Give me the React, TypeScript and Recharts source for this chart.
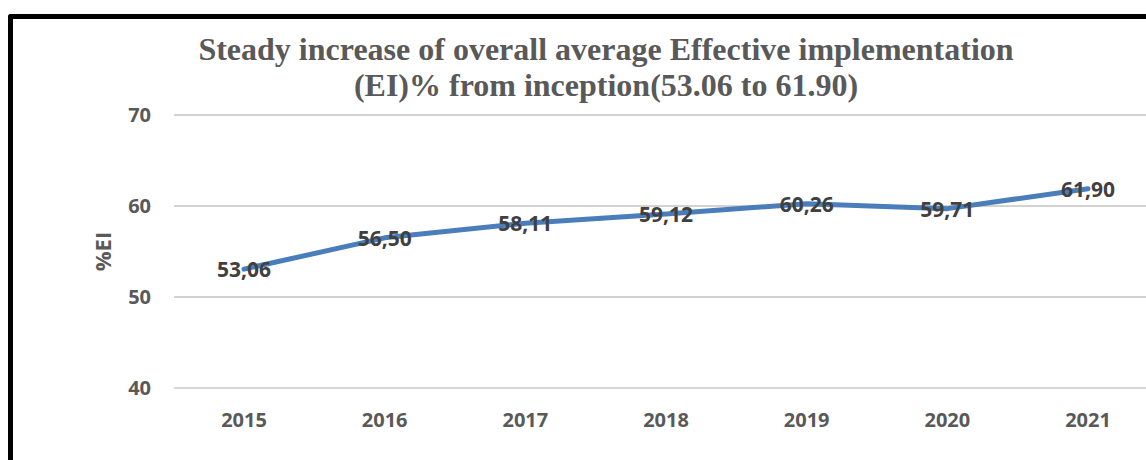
import React from 'react';
import { LineChart, Line, XAxis, YAxis, CartesianGrid, LabelList } from 'recharts';

const years = ['2015', '2016', '2017', '2018', '2019', '2020', '2021'];
const eiValues = [53.06, 56.5, 58.11, 59.12, 60.26, 59.71, 61.9];
const yTicks = [40, 50, 60, 70];
const titleLines = [
  'Steady increase of overall average Effective implementation',
  '(EI)% from inception(53.06 to 61.90)',
];
const yLabel = '%EI';

const data = years.map((y, i) => ({ year: y, ei: eiValues[i] }));

const SANS = '"Open Sans", "Noto Sans", sans-serif';

const ValueLabel = (props: any) => {
  const { x, y, value } = props;
  return (
    <text
      x={x}
      y={y}
      textAnchor="middle"
      dominantBaseline="central"
      fontFamily={SANS}
      fontWeight={700}
      fontSize={21}
      fill="#404040"
    >
      {Number(value).toFixed(2).replace('.', ',')}
    </text>
  );
};

const YLabel = (props: any) => {
  const { viewBox } = props;
  const cx = viewBox.x + 102;
  const cy = viewBox.y + viewBox.height / 2;
  return (
    <text
      transform={`translate(${cx},${cy}) rotate(-90)`}
      textAnchor="middle"
      dominantBaseline="central"
      fontFamily={SANS}
      fontWeight={700}
      fontSize={22}
      fill="#595959"
    >
      {yLabel}
    </text>
  );
};

export default function App() {
  return (
    <div
      style={{
        position: 'fixed',
        left: 0,
        top: 0,
        width: 1146,
        height: 460,
        overflow: 'hidden',
        background: '#fff',
      }}
    >
      <div
        style={{
          position: 'absolute',
          left: 8,
          top: 14,
          width: 2000,
          height: 1000,
          borderLeft: '5px solid #000',
          borderTop: '5px solid #000',
          borderTopLeftRadius: 3,
          boxSizing: 'border-box',
        }}
      />
      <div style={{ position: 'absolute', left: 0, top: 0 }}>
        <LineChart
          width={1200}
          height={460}
          data={data}
          margin={{ top: 115, right: 42, bottom: 0, left: 0 }}
        >
          <CartesianGrid vertical={false} stroke="#a6a6a6" strokeWidth={1} />
          <XAxis
            dataKey="year"
            height={72}
            padding={{ left: 70, right: 70 }}
            axisLine={{ stroke: '#d9d9d9', strokeWidth: 1 }}
            tickLine={false}
            tickSize={0}
            tickMargin={25}
            tick={{ fontFamily: SANS, fontWeight: 700, fontSize: 20, fill: '#595959' }}
            interval={0}
          />
          <YAxis
            width={174}
            domain={[40, 70]}
            ticks={yTicks}
            axisLine={false}
            tickLine={false}
            tickSize={0}
            tickMargin={23}
            tick={{ fontFamily: SANS, fontWeight: 700, fontSize: 20, fill: '#595959' }}
            label={<YLabel />}
          />
          <Line
            type="linear"
            dataKey="ei"
            stroke="#4a7ebb"
            strokeWidth={5}
            strokeLinecap="round"
            strokeLinejoin="round"
            dot={false}
            activeDot={false}
            isAnimationActive={false}
          >
            <LabelList dataKey="ei" content={<ValueLabel />} />
          </Line>
        </LineChart>
      </div>
      <svg
        width={1146}
        height={460}
        style={{ position: 'absolute', left: 0, top: 0, pointerEvents: 'none' }}
      >
        {titleLines.map((t, i) => (
          <text
            key={i}
            x={606}
            y={60 + i * 36}
            textAnchor="middle"
            fontFamily='"Liberation Serif", "Times New Roman", serif'
            fontWeight={700}
            fontSize={32}
            fill="#595959"
          >
            {t}
          </text>
        ))}
      </svg>
    </div>
  );
}
